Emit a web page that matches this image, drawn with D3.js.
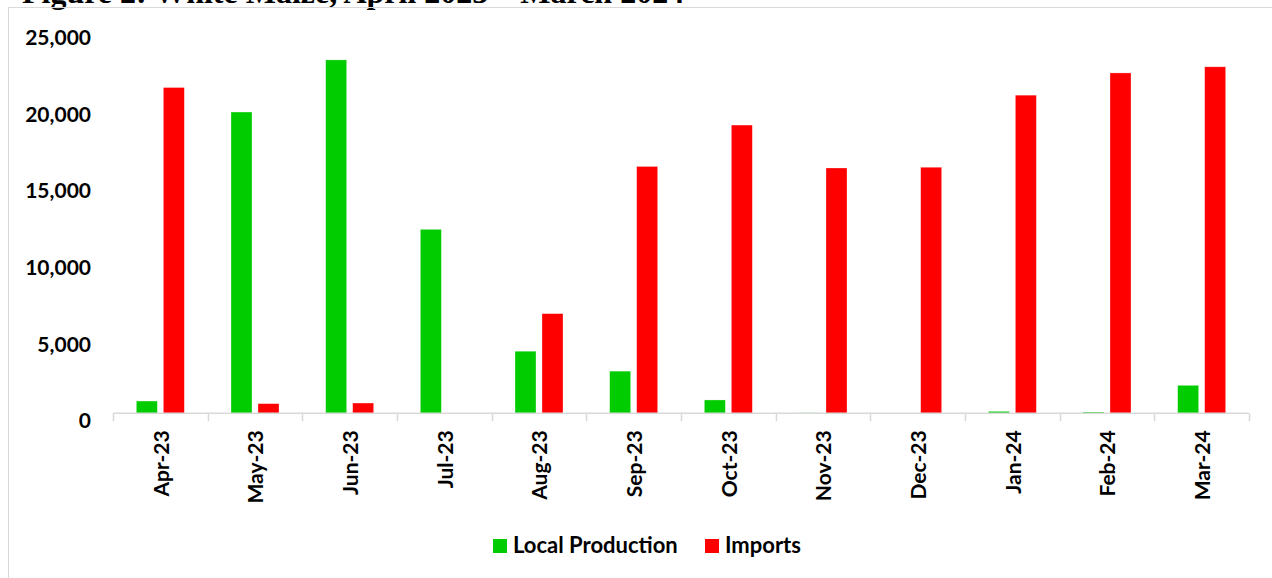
<!DOCTYPE html>
<html>
<head>
<meta charset="utf-8">
<script src="https://cdn.jsdelivr.net/npm/d3@7"></script>
<style>
  html, body { margin: 0; padding: 0; background: #fff; }
  svg { display: block; }
</style>
</head>
<body>
<svg id="chart" width="1272" height="578"></svg>
<script>
const categories = ["Apr-23","May-23","Jun-23","Jul-23","Aug-23","Sep-23","Oct-23","Nov-23","Dec-23","Jan-24","Feb-24","Mar-24"];
const seriesNames = ["Local Production","Imports"];
const localProduction = [800, 19650, 23050, 12000, 4050, 2750, 870, 30, 0, 130, 85, 1825];
const imports = [21250, 630, 670, 0, 6500, 16100, 18800, 16000, 16050, 20750, 22200, 22600];
const yTicks = [0, 5000, 10000, 15000, 20000, 25000];
const colors = ["#00CC00", "#FF0000"];
const titleText = "Figure 2: White Maize, April 2023 \u2013 March 2024";

const svg = d3.select("#chart");
const font = "Lato, 'Open Sans', sans-serif";

// title (partially cut off at top)
svg.append("text")
  .attr("x", 22).attr("y", 2.5)
  .attr("font-family", "'Liberation Serif', 'Times New Roman', serif")
  .attr("font-weight", "bold")
  .attr("font-size", 32)
  .attr("fill", "#000")
  .text(titleText);

// chart area border
svg.append("rect")
  .attr("x", 8.5).attr("y", 7.5)
  .attr("width", 1400).attr("height", 700)
  .attr("fill", "none")
  .attr("stroke", "#d9d9d9")
  .attr("stroke-width", 1);

const x0 = d3.scaleBand().domain(categories).range([113, 1249]).padding(0);
const x1 = d3.scaleBand().domain(seriesNames).range([0, x0.bandwidth()])
  .paddingInner(0.222).paddingOuter(0.864);
const y = d3.scaleLinear().domain([0, 25000]).range([413.3, 30]);

const data = categories.map((c, i) => ({cat: c, values: [
  {name: seriesNames[0], v: localProduction[i]},
  {name: seriesNames[1], v: imports[i]}
]}));

// bars
const g = svg.append("g");
const groups = g.selectAll("g.cat").data(data).join("g")
  .attr("class", "cat")
  .attr("transform", d => `translate(${x0(d.cat)},0)`);
groups.selectAll("rect").data(d => d.values).join("rect")
  .attr("x", d => x1(d.name))
  .attr("width", x1.bandwidth())
  .attr("y", d => y(d.v))
  .attr("height", d => y(0) - y(d.v))
  .attr("fill", (d, i) => colors[i])
  .attr("stroke", "rgba(255,255,255,0.5)")
  .attr("stroke-width", 0.6);

// y axis labels (no axis line)
const yAxis = d3.axisLeft(y).tickValues(yTicks).tickSize(0).tickPadding(0)
  .tickFormat(d3.format(","));
const yg = svg.append("g").attr("transform", "translate(91,0)").call(yAxis);
yg.select(".domain").remove();
yg.selectAll("text")
  .attr("font-family", font)
  .attr("font-weight", "bold")
  .attr("font-size", 21)
  .attr("fill", "#000")
  .attr("dy", "0.72em")
  .attr("y", -0.5);

// x axis line with boundary ticks
const xg = svg.append("g").attr("transform", `translate(0,${y(0)})`);
xg.append("line")
  .attr("x1", 113).attr("x2", 1249)
  .attr("y1", 0).attr("y2", 0)
  .attr("stroke", "#d9d9d9").attr("stroke-width", 1.5);
const boundaries = categories.map(c => x0(c)).concat([x0(categories[categories.length-1]) + x0.bandwidth()]);
xg.selectAll("line.tick").data(boundaries).join("line")
  .attr("class", "tick")
  .attr("x1", d => Math.round(d) + 0.5).attr("x2", d => Math.round(d) + 0.5)
  .attr("y1", 0).attr("y2", 8)
  .attr("stroke", "#d9d9d9").attr("stroke-width", 1.5);

const xAxis = d3.axisBottom(x0).tickSize(0).tickPadding(0);
const xl = svg.append("g").attr("transform", `translate(0,${y(0)})`).call(xAxis);
xl.select(".domain").remove();
xl.selectAll("text")
  .attr("font-family", font)
  .attr("font-weight", "bold")
  .attr("font-size", 21)
  .attr("fill", "#000")
  .attr("text-anchor", "end")
  .attr("transform", "rotate(-90)")
  .attr("x", -17)
  .attr("y", 1)
  .attr("dy", "0.35em");

// legend
const legendItems = [
  {name: seriesNames[0], color: colors[0], x: 493},
  {name: seriesNames[1], color: colors[1], x: 705}
];
const lg = svg.append("g");
lg.selectAll("rect").data(legendItems).join("rect")
  .attr("x", d => d.x).attr("y", 539)
  .attr("width", 14).attr("height", 14)
  .attr("fill", d => d.color);
lg.selectAll("text").data(legendItems).join("text")
  .attr("x", d => d.x + 20).attr("y", 553)
  .attr("font-family", font)
  .attr("font-weight", "bold")
  .attr("font-size", 22)
  .attr("fill", "#000")
  .text(d => d.name);
</script>
</body>
</html>
